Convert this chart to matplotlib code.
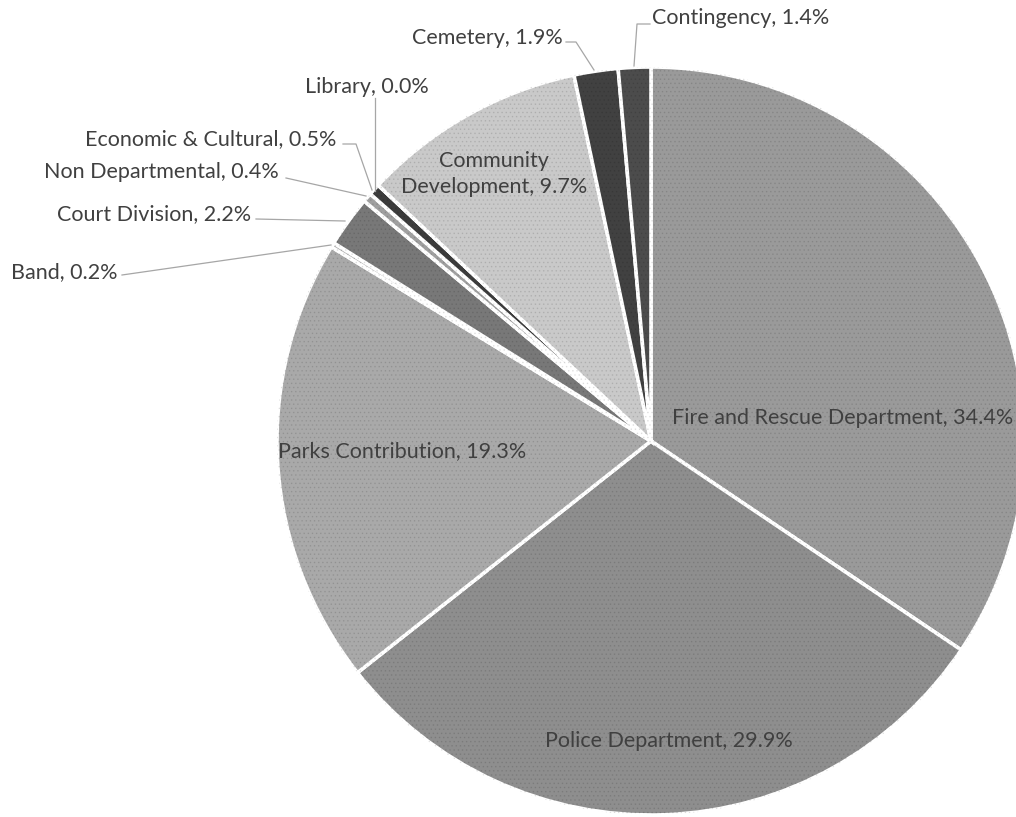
import matplotlib
matplotlib.use('Agg')
import matplotlib.pyplot as plt

# general fund appropriations by department, percent of total
departments = ['Fire and Rescue Department', 'Police Department', 'Parks Contribution',
               'Band', 'Court Division', 'Non Departmental', 'Economic & Cultural',
               'Library', 'Community\nDevelopment', 'Cemetery', 'Contingency']
shares = [34.4, 29.9, 19.3, 0.2, 2.2, 0.4, 0.5, 0.0, 9.7, 1.9, 1.4]
greys = ['#9a9a9a', '#8e8e8e', '#a9a9a9', '#b4b4b4', '#787878', '#a0a0a0',
         '#3c3c3c', '#666666', '#c9c9c9', '#414141', '#4c4c4c']

W, H = 1016, 817
CX, CY, R = 651, 441, 374


def px(x, y):
    # pixel position (origin top-left) -> data units of the pie
    return (x - CX) / R, (CY - y) / R


plt.rcParams['font.family'] = ['Lato', 'DejaVu Sans']
plt.rcParams['hatch.linewidth'] = 0.6

fig = plt.figure(figsize=(W / 100, H / 100), dpi=100)
ax = fig.add_axes([0, 0, 1, 1])

wedges, _ = ax.pie(shares, colors=greys, startangle=90, counterclock=False,
                   radius=1.0, normalize=True,
                   wedgeprops=dict(edgecolor='white', linewidth=2.6))

# faint dotted texture over the slices
ax.pie(shares, colors=['none'] * len(shares), startangle=90, counterclock=False,
       radius=1.0, normalize=True,
       wedgeprops=dict(edgecolor='#00000018', linewidth=0, hatch='....'))

ax.set_xlim(px(0, 0)[0], px(W, 0)[0])
ax.set_ylim(px(0, H)[1], px(0, 0)[1])
ax.set_aspect('equal')
ax.axis('off')

txt = dict(color='#404040', fontsize=15.5)

def label(i):
    return '%s, %.1f%%' % (departments[i], shares[i])

# labels that sit inside their slices
inside = {0: (843, 418), 1: (669, 741), 2: (402, 451), 8: (494, 174)}
for i, (x, y) in inside.items():
    ax.text(*px(x, y), label(i), ha='center', va='center', linespacing=1.35, **txt)

# labels outside the pie, with leader lines (pixel polylines)
outside = {
    10: ((652, 18), 'left', [(634, 66), (637, 24), (650, 24)]),
    9: ((563, 38), 'right', [(594, 70), (576, 42), (566, 42)]),
    7: ((367, 87), 'center', [(375, 191), (375, 98)]),
    6: ((336, 139), 'right', [(372, 190), (356, 144), (343, 144)]),
    5: ((279, 172), 'right', [(366, 196), (286, 178)]),
    4: ((251, 214), 'right', [(345, 221), (256, 219)]),
    3: ((117, 272), 'right', [(331, 245), (122, 275)]),
}
for i, ((x, y), ha, pts) in outside.items():
    ax.text(*px(x, y), label(i), ha=ha, va='center', **txt)
    xs, ys = zip(*[px(a, b) for a, b in pts])
    ax.plot(xs, ys, color='#a6a6a6', lw=0.9)

fig.savefig('out.png', dpi=100)
